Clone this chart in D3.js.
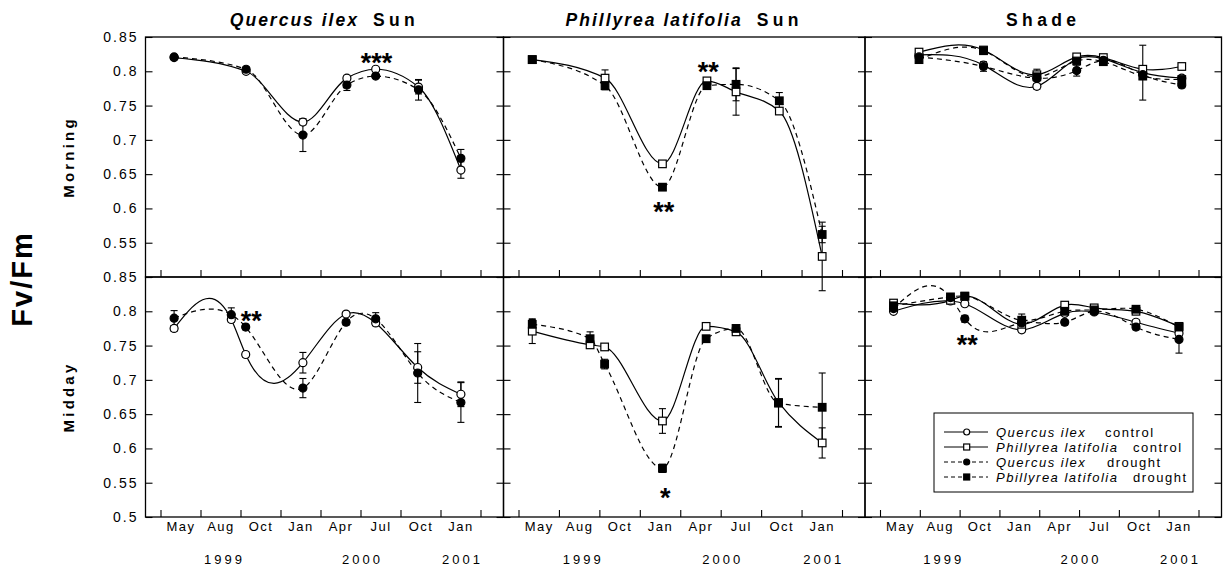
<!DOCTYPE html>
<html>
<head>
<meta charset="utf-8">
<script src="https://cdn.jsdelivr.net/npm/d3@7"></script>
<style>
  body { margin: 0; background: #fff; }
  text { font-family: "Liberation Sans", Arial, Helvetica, sans-serif; fill: #000; }
</style>
</head>
<body>
<div id="chart"></div>
<script>
// axis labels
const monthLabels = ["May", "Aug", "Oct", "Jan", "Apr", "Jul", "Oct", "Jan"];
const monthPos = [0.5, 1.5, 2.5, 3.5, 4.5, 5.5, 6.5, 7.5];
const yearLabels = ["1999", "2000", "2001"];
const yearPos = [1.6, 5.05, 7.55];
const yTicks = [0.5, 0.55, 0.6, 0.65, 0.7, 0.75, 0.8, 0.85];

// sampling dates (position on the month axis)
const sunMorningDates = [0.34, 2.14, 3.56, 4.66, 5.38, 6.45, 7.51];
const shadeMorningDates = [0.98, 2.6, 3.94, 4.94, 5.61, 6.6, 7.58];
const middayDates = [0.34, 1.77, 2.13, 3.56, 4.64, 5.38, 6.43, 7.51];

// Morning, sun
const qSunMornCtrl = [0.820, 0.800, 0.726, 0.790, 0.803, 0.777, 0.656];
const qSunMornCtrlSE = [0.002, 0.003, 0.004, 0.004, 0.003, 0.010, 0.012];
const qSunMornDrought = [0.821, 0.803, 0.707, 0.780, 0.793, 0.773, 0.673];
const qSunMornDroughtSE = [0.002, 0.003, 0.024, 0.008, 0.003, 0.015, 0.013];
const pSunMornCtrl = [0.817, 0.790, 0.665, 0.786, 0.770, 0.742, 0.530];
const pSunMornCtrlSE = [0.002, 0.012, 0.003, 0.003, 0.034, 0.004, 0.050];
const pSunMornDrought = [0.817, 0.779, 0.631, 0.779, 0.781, 0.757, 0.562];
const pSunMornDroughtSE = [0.002, 0.006, 0.003, 0.004, 0.024, 0.012, 0.012];

// Morning, shade
const qShadeMornCtrl = [0.824, 0.809, 0.778, 0.818, 0.818, 0.798, 0.790];
const qShadeMornCtrlSE = [0.003, 0.003, 0.004, 0.003, 0.003, 0.040, 0.004];
const pShadeMornCtrl = [0.828, 0.831, 0.795, 0.821, 0.820, 0.803, 0.807];
const pShadeMornCtrlSE = [0.003, 0.003, 0.008, 0.003, 0.003, 0.005, 0.003];
const qShadeMornDrought = [0.821, 0.807, 0.790, 0.801, 0.816, 0.795, 0.780];
const qShadeMornDroughtSE = [0.003, 0.007, 0.004, 0.008, 0.003, 0.005, 0.004];
const pShadeMornDrought = [0.817, 0.830, 0.792, 0.815, 0.814, 0.793, 0.788];
const pShadeMornDroughtSE = [0.003, 0.003, 0.006, 0.003, 0.003, 0.005, 0.004];

// Midday, sun
const qSunMidCtrl = [0.775, 0.788, 0.737, 0.725, 0.796, 0.783, 0.718, 0.679];
const qSunMidCtrlSE = [0.004, 0.004, 0.004, 0.015, 0.003, 0.004, 0.023, 0.018];
const qSunMidDrought = [0.790, 0.795, 0.777, 0.688, 0.784, 0.789, 0.710, 0.667];
const qSunMidDroughtSE = [0.011, 0.010, 0.004, 0.014, 0.004, 0.009, 0.043, 0.029];
const pSunMidCtrl = [0.771, 0.751, 0.748, 0.640, 0.778, 0.770, 0.667, 0.608];
const pSunMidCtrlSE = [0.018, 0.004, 0.003, 0.018, 0.004, 0.004, 0.035, 0.022];
const pSunMidDrought = [0.781, 0.760, 0.723, 0.571, 0.760, 0.775, 0.666, 0.660];
const pSunMidDroughtSE = [0.007, 0.010, 0.007, 0.006, 0.004, 0.003, 0.035, 0.050];

// Midday, shade
const qShadeMidCtrl = [0.800, 0.815, 0.811, 0.773, 0.797, 0.799, 0.784, 0.768];
const qShadeMidCtrlSE = [0.003, 0.003, 0.003, 0.004, 0.003, 0.003, 0.004, 0.004];
const pShadeMidCtrl = [0.812, 0.816, 0.822, 0.781, 0.809, 0.805, 0.800, 0.778];
const pShadeMidCtrlSE = [0.003, 0.003, 0.003, 0.004, 0.003, 0.003, 0.004, 0.004];
const qShadeMidDrought = [0.804, 0.820, 0.789, 0.783, 0.784, 0.800, 0.777, 0.759];
const qShadeMidDroughtSE = [0.003, 0.003, 0.005, 0.004, 0.004, 0.003, 0.004, 0.020];
const pShadeMidDrought = [0.808, 0.821, 0.822, 0.787, 0.800, 0.802, 0.803, 0.777];
const pShadeMidDroughtSE = [0.003, 0.003, 0.003, 0.009, 0.003, 0.006, 0.004, 0.006];

// significance stars
const starPanels = [[0, 0], [0, 1], [0, 1], [1, 0], [1, 1], [1, 2]];
const starX = [5.4, 4.69, 3.59, 2.27, 3.63, 2.19];
const starY = [0.821, 0.807, 0.603, 0.795, 0.537, 0.760];
const starText = ["***", "**", "**", "**", "*", "**"];

const rowTitles = ["Morning", "Midday"];

const W = 1226, H = 567;
const colLeft = [145.5, 503.5, 865];
const colWidth = [358, 361.5, 356.5];
const rowTop = [37, 277];
const ph = 240;

const styles = {
    qc: { shape: "circle", fill: "#fff", dash: null },
    pc: { shape: "square", fill: "#fff", dash: null },
    qd: { shape: "circle", fill: "#000", dash: "5,4" },
    pd: { shape: "square", fill: "#000", dash: "5,4" }
};

// natural cubic spline of y as a function of x (not of the point index)
function NaturalX(context) { this._context = context; }
NaturalX.prototype = {
    areaStart() { this._line = 0; },
    areaEnd() { this._line = NaN; },
    lineStart() { this._x = []; this._y = []; },
    point(x, y) { this._x.push(+x); this._y.push(+y); },
    lineEnd() {
        const xs = this._x, ys = this._y, n = xs.length, ctx = this._context;
        if (!n) return;
        ctx.moveTo(xs[0], ys[0]);
        if (n === 2) { ctx.lineTo(xs[1], ys[1]); return; }
        const h = [];
        for (let i = 0; i < n - 1; i++) h.push(xs[i + 1] - xs[i]);
        const a = [], b = [], c = [], r = [];
        for (let i = 1; i < n - 1; i++) {
            a.push(h[i - 1]); b.push(2 * (h[i - 1] + h[i])); c.push(h[i]);
            r.push(6 * ((ys[i + 1] - ys[i]) / h[i] - (ys[i] - ys[i - 1]) / h[i - 1]));
        }
        const m = b.length;
        for (let i = 1; i < m; i++) {
            const w = a[i] / b[i - 1];
            b[i] -= w * c[i - 1];
            r[i] -= w * r[i - 1];
        }
        const M = new Array(n).fill(0);
        M[m] = r[m - 1] / b[m - 1];
        for (let i = m - 2; i >= 0; i--) M[i + 1] = (r[i] - c[i] * M[i + 2]) / b[i];
        for (let i = 0; i < n - 1; i++) {
            const s = (ys[i + 1] - ys[i]) / h[i];
            const d0 = s - h[i] * (2 * M[i] + M[i + 1]) / 6;
            const d1 = s + h[i] * (M[i] + 2 * M[i + 1]) / 6;
            ctx.bezierCurveTo(xs[i] + h[i] / 3, ys[i] + d0 * h[i] / 3,
                xs[i + 1] - h[i] / 3, ys[i + 1] - d1 * h[i] / 3, xs[i + 1], ys[i + 1]);
        }
    }
};
const curveNaturalX = context => new NaturalX(context);

const panels = [
    { row: 0, col: 0, dates: sunMorningDates, curve: d3.curveMonotoneX, series: [
        ["qc", qSunMornCtrl, qSunMornCtrlSE], ["qd", qSunMornDrought, qSunMornDroughtSE]] },
    { row: 0, col: 1, dates: sunMorningDates, curve: d3.curveMonotoneX, series: [
        ["pc", pSunMornCtrl, pSunMornCtrlSE], ["pd", pSunMornDrought, pSunMornDroughtSE]] },
    { row: 0, col: 2, dates: shadeMorningDates, curve: curveNaturalX, series: [
        ["qc", qShadeMornCtrl, qShadeMornCtrlSE], ["pc", pShadeMornCtrl, pShadeMornCtrlSE],
        ["qd", qShadeMornDrought, qShadeMornDroughtSE], ["pd", pShadeMornDrought, pShadeMornDroughtSE]] },
    { row: 1, col: 0, dates: middayDates, curve: curveNaturalX, series: [
        ["qc", qSunMidCtrl, qSunMidCtrlSE], ["qd", qSunMidDrought, qSunMidDroughtSE]] },
    { row: 1, col: 1, dates: middayDates, curve: d3.curveMonotoneX, series: [
        ["pc", pSunMidCtrl, pSunMidCtrlSE], ["pd", pSunMidDrought, pSunMidDroughtSE]] },
    { row: 1, col: 2, dates: middayDates, curve: curveNaturalX, series: [
        ["qc", qShadeMidCtrl, qShadeMidCtrlSE], ["pc", pShadeMidCtrl, pShadeMidCtrlSE],
        ["qd", qShadeMidDrought, qShadeMidDroughtSE], ["pd", pShadeMidDrought, pShadeMidDroughtSE]] }
];

const svg = d3.select("#chart")
    .append("svg")
    .attr("width", W)
    .attr("height", H);

const fmt = d => String(+d.toFixed(2));

function drawMarker(sel, key, cx, cy, r) {
    const st = styles[key];
    if (st.shape === "circle") {
        sel.append("circle").attr("cx", cx).attr("cy", cy).attr("r", r)
            .attr("fill", st.fill).attr("stroke", "#000").attr("stroke-width", 1.2);
    } else {
        sel.append("rect").attr("x", cx - r).attr("y", cy - r)
            .attr("width", 2 * r).attr("height", 2 * r)
            .attr("fill", st.fill).attr("stroke", "#000").attr("stroke-width", 1.2);
    }
}

const scales = {};

panels.forEach(p => {
    const pw = colWidth[p.col];
    const g = svg.append("g").attr("transform", `translate(${colLeft[p.col]},${rowTop[p.row]})`);
    const x = d3.scaleLinear().domain([0, 8]).range([15, pw - 23]);
    const y = d3.scaleLinear().domain([0.5, 0.85]).range([ph, 0]);
    scales[p.row + "-" + p.col] = { x, y, g };

    // y axis left (labels only on first column)
    const yl = g.append("g")
        .call(d3.axisLeft(y).tickValues(yTicks).tickSizeInner(-7).tickSizeOuter(0).tickPadding(7)
            .tickFormat(d => (p.col === 0 && !(p.row === 0 && d === 0.5)) ? fmt(d) : ""));
    yl.select(".domain").remove();
    yl.selectAll("text").attr("font-size", 14).style("letter-spacing", "2px")
        .attr("font-family", null);

    // y ticks right
    const yr = g.append("g").attr("transform", `translate(${pw},0)`)
        .call(d3.axisRight(y).tickValues(yTicks).tickSizeInner(-7).tickSizeOuter(0).tickFormat(""));
    yr.select(".domain").remove();

    // x ticks
    const xb = g.append("g").attr("transform", `translate(0,${ph})`)
        .call(d3.axisBottom(x).tickValues(d3.range(0, 9)).tickSizeInner(-7).tickSizeOuter(0).tickFormat(""));
    xb.select(".domain").remove();

    g.selectAll(".tick line").attr("stroke-width", 1.1);

    if (p.row === 1) {
        const ml = g.append("g").attr("transform", `translate(0,${ph})`)
            .call(d3.axisBottom(x).tickValues(monthPos).tickSize(0).tickPadding(5)
                .tickFormat((d, i) => monthLabels[i]));
        ml.select(".domain").remove();
        ml.selectAll("text").attr("font-size", 13).attr("font-family", null)
            .style("letter-spacing", "1.5px");

        g.selectAll(".year")
            .data(yearLabels)
            .enter().append("text")
            .attr("class", "year")
            .attr("x", (d, i) => x(yearPos[i]))
            .attr("y", 287)
            .attr("text-anchor", "middle")
            .attr("font-size", 13)
            .style("letter-spacing", "3px")
            .text(d => d);
    }

    // frame
    g.append("rect").attr("width", pw).attr("height", ph)
        .attr("fill", "none").attr("stroke", "#000").attr("stroke-width", 1.3);

    const line = d3.line()
        .x(d => x(d[0]))
        .y(d => y(d[1]))
        .curve(p.curve);

    // lines
    p.series.forEach(([key, vals]) => {
        g.append("path")
            .datum(vals.map((v, i) => [p.dates[i], v]))
            .attr("d", line)
            .attr("fill", "none")
            .attr("stroke", "#000")
            .attr("stroke-width", 1.2)
            .attr("stroke-dasharray", styles[key].dash);
    });

    // error bars
    p.series.forEach(([key, vals, se]) => {
        vals.forEach((v, i) => {
            const cx = x(p.dates[i]);
            const y0 = y(v - se[i]), y1 = y(v + se[i]);
            g.append("line").attr("x1", cx).attr("x2", cx).attr("y1", y0).attr("y2", y1)
                .attr("stroke", "#000").attr("stroke-width", 1.1);
            [y0, y1].forEach(yy => g.append("line")
                .attr("x1", cx - 3.5).attr("x2", cx + 3.5).attr("y1", yy).attr("y2", yy)
                .attr("stroke", "#000").attr("stroke-width", 1.1));
        });
    });

    // markers
    p.series.forEach(([key, vals]) => {
        vals.forEach((v, i) => {
            drawMarker(g, key, x(p.dates[i]), y(v), styles[key].shape === "circle" ? 4 : 3.8);
        });
    });
});

// significance stars
starText.forEach((t, i) => {
    const s = scales[starPanels[i][0] + "-" + starPanels[i][1]];
    s.g.append("text")
        .attr("x", s.x(starX[i]))
        .attr("y", s.y(starY[i]) + 15)
        .attr("text-anchor", "middle")
        .attr("font-size", 27)
        .attr("font-weight", "bold")
        .text(t);
});

// column titles
const titleSpecies = ["Quercus ilex", "Phillyrea latifolia", ""];
const titleLight = ["Sun", "Sun", "Shade"];
titleLight.forEach((t, c) => {
    const tt = svg.append("text")
        .attr("x", colLeft[c] + colWidth[c] / 2)
        .attr("y", 26)
        .attr("text-anchor", "middle")
        .attr("font-size", 17.5)
        .attr("font-weight", "bold");
    if (titleSpecies[c]) {
        tt.append("tspan").attr("font-style", "italic").style("letter-spacing", "2px").text(titleSpecies[c]);
        tt.append("tspan").attr("dx", 14).style("letter-spacing", "4.4px").text(t);
    } else {
        tt.append("tspan").style("letter-spacing", "4.4px").text(t);
    }
});

// row titles
rowTitles.forEach((t, r) => {
    svg.append("text")
        .attr("transform", `translate(74,${rowTop[r] + ph / 2}) rotate(-90)`)
        .attr("text-anchor", "middle")
        .attr("font-size", 15)
        .attr("font-weight", "bold")
        .style("letter-spacing", "3.2px")
        .text(t);
});

// main y label
svg.append("text")
    .attr("transform", "translate(32,279) rotate(-90)")
    .attr("text-anchor", "middle")
    .attr("font-size", 29)
    .attr("font-weight", "bold")
    .style("letter-spacing", "2px")
    .text("Fv/Fm");

// legend
const legendKeys = ["qc", "pc", "qd", "pd"];
const legendSpecies = ["Quercus ilex", "Phillyrea latifolia", "Quercus ilex", "Pbillyrea latifolia"];
const legendTreat = ["control", "control", "drought", "drought"];
const legendTreatX = [171, 199, 173, 199];

const lg = svg.append("g").attr("transform", "translate(934,413)");
lg.append("rect").attr("width", 259).attr("height", 79)
    .attr("fill", "#fff").attr("stroke", "#000").attr("stroke-width", 1);
legendKeys.forEach((k, i) => {
    const cy = 19 + i * 15;
    lg.append("line").attr("x1", 10).attr("x2", 54).attr("y1", cy).attr("y2", cy)
        .attr("stroke", "#000").attr("stroke-width", 1)
        .attr("stroke-dasharray", styles[k].dash ? "4,3" : null);
    drawMarker(lg, k, 32.7, cy, 3);
    lg.append("text").attr("x", 62).attr("y", cy + 4.5)
        .attr("font-size", 13).attr("font-style", "italic")
        .style("letter-spacing", "1.5px")
        .text(legendSpecies[i]);
    lg.append("text").attr("x", legendTreatX[i]).attr("y", cy + 4.5)
        .attr("font-size", 13)
        .style("letter-spacing", "1.5px")
        .text(legendTreat[i]);
});
</script>
</body>
</html>
